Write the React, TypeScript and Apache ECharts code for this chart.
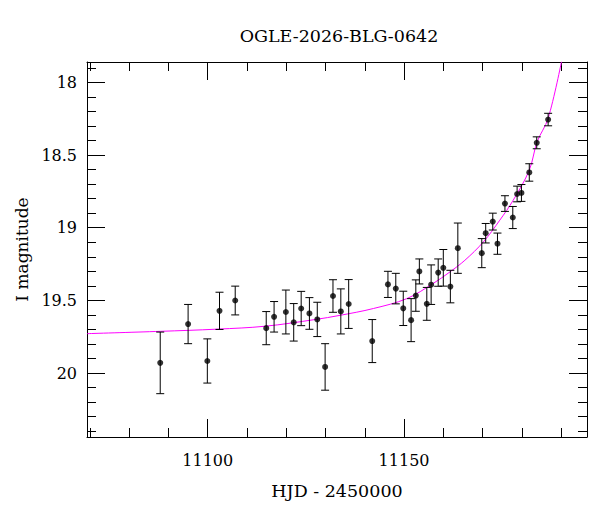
import React, { useEffect, useRef } from "react";
import * as echarts from "echarts";

const TITLE = "OGLE-2026-BLG-0642";
const X_NAME = "HJD - 2450000";
const Y_NAME = "I magnitude";

const X_MIN = 11069.25;
const X_MAX = 11196.6;
const Y_MIN = 17.86;
const Y_MAX = 20.44;

const X_MAJOR = [11100, 11150];
const X_MINOR = [11070, 11080, 11090, 11110, 11120, 11130, 11140, 11160, 11170, 11180, 11190];
const Y_MAJOR = [18, 18.5, 19, 19.5, 20];
const Y_MINOR = [17.9, 18.1, 18.2, 18.3, 18.4, 18.6, 18.7, 18.8, 18.9, 19.1, 19.2, 19.3, 19.4, 19.6, 19.7, 19.8, 19.9, 20.1, 20.2, 20.3, 20.4];

const hjd = [
  11087.9, 11095.0, 11099.9, 11103.0, 11107.0, 11114.9, 11116.9, 11119.9, 11121.9, 11123.8,
  11125.9, 11127.9, 11129.9, 11131.9, 11133.9, 11135.9, 11141.9, 11145.9, 11147.9, 11149.8,
  11151.8, 11153.0, 11153.9, 11155.8, 11156.9, 11158.7, 11160.0, 11161.8, 11163.7, 11169.8,
  11170.8, 11172.6, 11173.8, 11175.7, 11177.7, 11178.8, 11179.9, 11181.9, 11183.8, 11186.7,
];
const mag = [
  19.93, 19.663, 19.917, 19.572, 19.501, 19.691, 19.613, 19.58, 19.651, 19.556,
  19.59, 19.631, 19.958, 19.47, 19.576, 19.525, 19.78, 19.39, 19.419, 19.555,
  19.636, 19.467, 19.301, 19.524, 19.392, 19.309, 19.276, 19.405, 19.141, 19.175,
  19.038, 18.958, 19.11, 18.834, 18.93, 18.768, 18.761, 18.62, 18.416, 18.256,
];
const magErr = [
  0.212, 0.135, 0.152, 0.128, 0.099, 0.114, 0.105, 0.151, 0.129, 0.118,
  0.109, 0.118, 0.16, 0.112, 0.155, 0.168, 0.148, 0.09, 0.105, 0.118,
  0.148, 0.108, 0.086, 0.113, 0.136, 0.094, 0.126, 0.112, 0.173, 0.1,
  0.067, 0.058, 0.073, 0.054, 0.076, 0.054, 0.058, 0.06, 0.041, 0.043,
];

const modelT = [
  11069.3, 11087.9, 11102.4, 11114.6, 11127.3, 11133.7, 11142.2, 11150.7, 11157.4, 11161.7,
  11165.5, 11170.2, 11174.4, 11177.8, 11181.9, 11183.9, 11186.7, 11190.1,
];
const modelMag = [
  19.729, 19.713, 19.698, 19.678, 19.632, 19.603, 19.556, 19.488, 19.384, 19.304,
  19.224, 19.098, 18.948, 18.811, 18.604, 18.409, 18.248, 17.858,
];

const FONT = "'DejaVu Serif', 'Liberation Serif', serif";
const BLACK = "#000";

export default function App() {
  const ref = useRef<HTMLDivElement>(null);

  useEffect(() => {
    if (!ref.current) return;
    const chart = echarts.init(ref.current, null, { renderer: "svg" });

    const points = hjd.map((t, i) => [t, mag[i]]);
    const bars = hjd.map((t, i) => [t, mag[i], magErr[i]]);
    const model = modelT.map((t, i) => [t, modelMag[i]]);

    const lineStyle = { color: BLACK, width: 1 };
    const baseX = { type: "value", min: X_MIN, max: X_MAX, splitLine: { show: false }, gridIndex: 0 };
    const baseY = { type: "value", min: Y_MIN, max: Y_MAX, inverse: true, splitLine: { show: false }, gridIndex: 0 };

    const option: any = {
      animation: false,
      backgroundColor: "#fff",
      textStyle: { fontFamily: FONT },
      grid: { left: 87, right: 13, top: 62, bottom: 75, containLabel: false },
      graphic: [
        {
          type: "text",
          x: 339,
          y: 36,
          style: {
            text: TITLE,
            fill: BLACK,
            font: `17.5px ${FONT}`,
            textAlign: "center",
            textVerticalAlign: "middle",
          },
        },
      ],
      xAxis: [
        {
          ...baseX,
          position: "bottom",
          axisLine: { show: true, onZero: false, lineStyle },
          axisTick: { show: true, inside: true, length: 18, customValues: X_MAJOR, lineStyle },
          axisLabel: {
            show: true,
            customValues: X_MAJOR,
            formatter: (v: number) => String(v),
            color: BLACK,
            fontFamily: FONT,
            fontSize: 16,
            margin: 15,
          },
          name: X_NAME,
          nameLocation: "middle",
          nameGap: 45,
          nameTextStyle: { color: BLACK, fontFamily: FONT, fontSize: 17.5 },
        },
        {
          ...baseX,
          position: "bottom",
          axisLine: { show: false },
          axisTick: { show: true, inside: true, length: 9, customValues: X_MINOR, lineStyle },
          axisLabel: { show: false },
        },
        {
          ...baseX,
          position: "top",
          axisLine: { show: true, onZero: false, lineStyle },
          axisTick: { show: true, inside: true, length: 18, customValues: X_MAJOR, lineStyle },
          axisLabel: { show: false },
        },
        {
          ...baseX,
          position: "top",
          axisLine: { show: false },
          axisTick: { show: true, inside: true, length: 9, customValues: X_MINOR, lineStyle },
          axisLabel: { show: false },
        },
      ],
      yAxis: [
        {
          ...baseY,
          position: "left",
          axisLine: { show: true, onZero: false, lineStyle },
          axisTick: { show: true, inside: true, length: 18, customValues: Y_MAJOR, lineStyle },
          axisLabel: {
            show: true,
            customValues: Y_MAJOR,
            formatter: (v: number) => String(v),
            color: BLACK,
            fontFamily: FONT,
            fontSize: 16,
            margin: 10,
          },
          name: Y_NAME,
          nameLocation: "middle",
          nameGap: 55,
          nameRotate: 90,
          nameTextStyle: { color: BLACK, fontFamily: FONT, fontSize: 17 },
        },
        {
          ...baseY,
          position: "left",
          axisLine: { show: false },
          axisTick: { show: true, inside: true, length: 9, customValues: Y_MINOR, lineStyle },
          axisLabel: { show: false },
        },
        {
          ...baseY,
          position: "right",
          axisLine: { show: true, onZero: false, lineStyle },
          axisTick: { show: true, inside: true, length: 18, customValues: Y_MAJOR, lineStyle },
          axisLabel: { show: false },
        },
        {
          ...baseY,
          position: "right",
          axisLine: { show: false },
          axisTick: { show: true, inside: true, length: 9, customValues: Y_MINOR, lineStyle },
          axisLabel: { show: false },
        },
      ],
      series: [
        {
          type: "line",
          name: "model",
          xAxisIndex: 0,
          yAxisIndex: 0,
          data: model,
          smooth: 0.35,
          showSymbol: false,
          symbol: "none",
          clip: true,
          lineStyle: { color: "#ff00ff", width: 1 },
          z: 3,
        },
        {
          type: "custom",
          name: "errors",
          xAxisIndex: 0,
          yAxisIndex: 0,
          data: bars,
          encode: { x: 0, y: 1 },
          clip: true,
          renderItem: (params: any, api: any) => {
            const x = api.value(0);
            const y = api.value(1);
            const e = api.value(2);
            const top = api.coord([x, y - e]);
            const bot = api.coord([x, y + e]);
            const w = 4;
            const style = { stroke: BLACK, lineWidth: 1 };
            return {
              type: "group",
              children: [
                { type: "line", shape: { x1: top[0], y1: top[1], x2: bot[0], y2: bot[1] }, style },
                { type: "line", shape: { x1: top[0] - w, y1: top[1], x2: top[0] + w, y2: top[1] }, style },
                { type: "line", shape: { x1: bot[0] - w, y1: bot[1], x2: bot[0] + w, y2: bot[1] }, style },
              ],
            };
          },
          z: 4,
        },
        {
          type: "scatter",
          name: "data",
          xAxisIndex: 0,
          yAxisIndex: 0,
          data: points,
          symbol: "circle",
          symbolSize: 6,
          itemStyle: { color: BLACK },
          z: 5,
        },
      ],
    };

    chart.setOption(option);
    return () => chart.dispose();
  }, []);

  return <div ref={ref} style={{ width: 600, height: 512, margin: -8 }} />;
}
